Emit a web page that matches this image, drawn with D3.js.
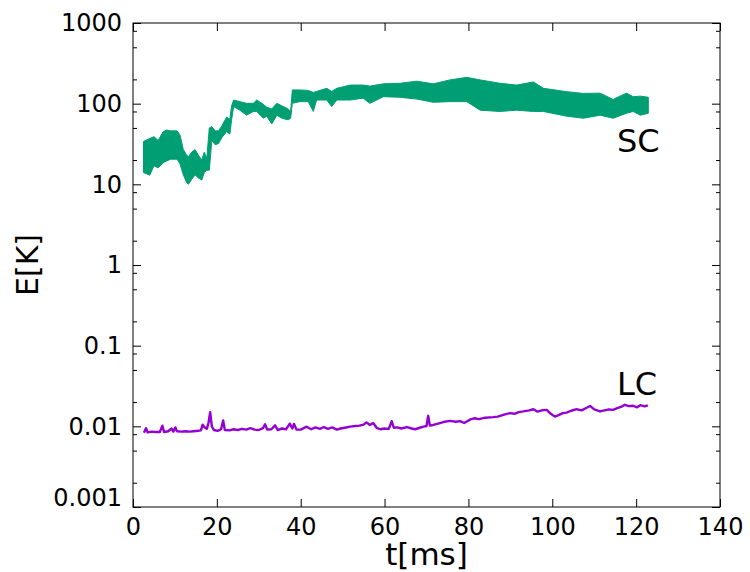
<!DOCTYPE html>
<html>
<head>
<meta charset="utf-8">
<script src="https://cdn.jsdelivr.net/npm/d3@7"></script>
<style>
    body { margin: 0; background: #fff; }
    svg text { font-family: "DejaVu Sans", sans-serif; fill: #000; }
</style>
</head>
<body>
<svg id="chart" width="750" height="572"></svg>
<script>
        // Serie SC: tiempo (ms) y envolvente inferior / superior de la banda (K)
        const scT  = [2.5, 4, 5, 6, 7.2, 8, 9, 10.5, 11.2, 12, 12.8, 13.2, 14, 14.8, 15.6, 16.4, 17, 17.6, 18.2,
                      18.8, 19.6, 20.4, 21.2, 22.3, 23.1, 23.5, 24, 25.5, 27.1, 28.7, 29.5, 31.1, 31.9, 33.1, 34.3,
                      35.5, 37, 37.6, 38, 39.8, 41.8, 43, 43.8, 46.2, 47.4, 48.6, 51.8, 54.9, 56.5, 59.7, 63.7,
                      67.7, 71.6, 75.6, 79.6, 82.8, 87.5, 91.5, 95.5, 97.9, 103.4, 107.4, 111.4, 114.5, 117.7,
                      119.3, 121, 122.9];
        const scLo = [14, 13, 17, 16, 18.5, 19.5, 20.5, 20.5, 18, 13.1, 10.5, 10, 11.5, 13.1, 12, 11.3, 14, 15, 15,
                      35, 31, 32, 38, 45, 42, 62, 92, 83, 72, 80, 80, 66, 70, 56, 72,
                      66, 63, 66, 101, 106, 106, 80, 111, 111, 92, 111, 111, 117, 101, 122, 120,
                      114, 104, 106, 106, 83, 80, 83, 80, 80, 70, 66, 72, 66, 76,
                      80, 72, 76];
        const scHi = [34, 37, 39, 35, 45, 47, 46, 46, 41, 27, 23, 22, 25, 27, 23, 20, 25, 21, 50,
                      52, 46, 46, 53, 68, 64, 93, 111, 106, 101, 101, 111, 98, 90, 86, 101,
                      94, 86, 80, 148, 148, 146, 138, 142, 155, 142, 155, 170, 170, 165, 176, 179,
                      190, 176, 197, 212, 197, 179, 170, 186, 155, 141, 134, 135, 113, 135,
                      122, 124, 120];

        // Serie LC: tiempo (ms) y valor (K)
        const lcT = [2.6, 3.1, 3.5, 4.5, 5.5, 6.4, 7, 7.4, 8.4, 9.2, 9.6, 10.1, 10.5, 11.5, 12.5, 13.5, 14.5, 15.5,
                     16.2, 16.6, 17, 17.6, 18, 18.4, 18.8, 19.3, 20.2, 21, 21.5, 21.9, 23, 24, 25, 26, 27, 28, 29,
                     30, 31, 31.5, 32, 33, 33.9, 34.5, 35.5, 36.5, 37.4, 38, 38.4, 39, 40, 41.4, 42.5, 43.5, 44.6,
                     45.5, 46.5, 47.5, 48.6, 49.5, 50.5, 51.8, 53, 54, 55, 55.7, 56.5, 57.3, 58.1, 59, 60, 61,
                     61.7, 62.2, 63, 64, 65.3, 66.5, 67.3, 68.4, 69.3, 70, 70.4, 70.8, 71.6, 73, 74, 75.6, 77,
                     78, 79, 79.6, 80.5, 81.5, 82.5, 84, 85.9, 87, 88.5, 89.9, 91, 92, 93.1, 94.5, 95.5, 96.5,
                     97.5, 98.7, 99.5, 100.6, 101.5, 102.5, 103.4, 104.5, 105.8, 107, 108.2, 109, 110, 111.4,
                     112.5, 113.5, 114.5, 115.5, 116.5, 117.3, 118.2, 119.3, 120.2, 121, 122, 122.8];
        const lcE = [0.0083, 0.0095, 0.0084, 0.0086, 0.0085, 0.0085, 0.0102, 0.0085, 0.0087, 0.0094, 0.0086, 0.0097,
                     0.0087, 0.0086, 0.0087, 0.0086, 0.0087, 0.0088, 0.0089, 0.0105, 0.0098, 0.0093, 0.011, 0.015,
                     0.01, 0.009, 0.0088, 0.0092, 0.0118, 0.009, 0.0089, 0.0092, 0.009, 0.0093, 0.0091, 0.0095,
                     0.0091, 0.009, 0.0095, 0.0106, 0.0091, 0.0092, 0.0103, 0.009, 0.0094, 0.0092, 0.0108, 0.0094,
                     0.0107, 0.0091, 0.0091, 0.0099, 0.0092, 0.0097, 0.0093, 0.0098, 0.0093, 0.0097, 0.0091,
                     0.0094, 0.0096, 0.0099, 0.0101, 0.0102, 0.0105, 0.0112, 0.0104, 0.011, 0.0096, 0.0092,
                     0.0094, 0.0093, 0.0116, 0.0096, 0.0097, 0.0094, 0.0098, 0.0094, 0.0092, 0.0096, 0.0099,
                     0.0101, 0.0135, 0.0102, 0.0104, 0.0109, 0.0113, 0.0117, 0.0114, 0.0116, 0.011, 0.0115,
                     0.0122, 0.0126, 0.0123, 0.0128, 0.013, 0.0132, 0.014, 0.0146, 0.0143, 0.015, 0.0153, 0.0158,
                     0.0163, 0.0152, 0.0158, 0.016, 0.0145, 0.0132, 0.0138, 0.0146, 0.0148, 0.0156, 0.0163,
                     0.0158, 0.017, 0.0179, 0.0162, 0.0153, 0.0158, 0.0162, 0.016, 0.0168, 0.0175, 0.0185,
                     0.0178, 0.018, 0.0172, 0.0183, 0.0177, 0.0182];

        // Marcas de los ejes
        const xTicks = [0, 20, 40, 60, 80, 100, 120, 140];
        const yTicks = [0.001, 0.01, 0.1, 1, 10, 100, 1000];
        const yTickLabels = ['0.001', '0.01', '0.1', '1', '10', '100', '1000'];
        const yMinorTicks = [0.002, 0.005, 0.008, 0.02, 0.05, 0.08, 0.2, 0.5, 0.8, 2, 5, 8, 20, 50, 80, 200, 500, 800];

        // Dimensiones del área de trazado
        const mLeft = 133, mRight = 720, mTop = 23, mBottom = 507;
        const svg = d3.select('#chart');

        const x = d3.scaleLinear().domain([0, 140]).range([mLeft, mRight]);
        const y = d3.scaleLog().domain([0.001, 1000]).range([mBottom, mTop]);

        // Banda SC
        const scData = scT.map((t, i) => ({ t, lo: scLo[i], hi: scHi[i] }));
        const area = d3.area()
            .x(d => x(d.t))
            .y0(d => y(d.lo))
            .y1(d => y(d.hi));
        svg.append('path')
            .datum(scData)
            .attr('fill', '#009e73')
            .attr('stroke', '#009e73')
            .attr('stroke-width', 1)
            .attr('d', area);

        // Línea LC
        const lcData = lcT.map((t, i) => ({ t, v: lcE[i] }));
        const line = d3.line()
            .x(d => x(d.t))
            .y(d => y(d.v));
        svg.append('path')
            .datum(lcData)
            .attr('fill', 'none')
            .attr('stroke', '#9400d3')
            .attr('stroke-width', 2.4)
            .attr('stroke-linejoin', 'round')
            .attr('d', line);

        // Ejes con marcas hacia dentro
        function styleAxis(g) {
            g.select('.domain').remove();
            g.selectAll('line').attr('stroke', '#000');
        }

        svg.append('g')
            .attr('transform', `translate(0,${mBottom})`)
            .call(d3.axisBottom(x).tickValues(xTicks).tickSizeInner(-8).tickSizeOuter(0).tickPadding(11))
            .call(styleAxis)
            .selectAll('text').attr('font-size', 24).attr('font-family', 'DejaVu Sans');

        svg.append('g')
            .attr('transform', `translate(0,${mTop})`)
            .call(d3.axisTop(x).tickValues(xTicks).tickSizeInner(-8).tickSizeOuter(0).tickFormat(''))
            .call(styleAxis);

        const yAxisG = svg.append('g')
            .attr('transform', `translate(${mLeft},0)`)
            .call(d3.axisLeft(y).tickValues(yTicks).tickSizeInner(-8).tickSizeOuter(0).tickPadding(11)
                .tickFormat((d, i) => yTickLabels[i]))
            .call(styleAxis);
        yAxisG.selectAll('text').attr('font-size', 24).attr('font-family', 'DejaVu Sans');
        // La etiqueta inferior queda apoyada sobre el eje
        yAxisG.selectAll('text').filter(d => d === 0.001).attr('dy', '-0.05em');

        svg.append('g')
            .attr('transform', `translate(${mLeft},0)`)
            .call(d3.axisLeft(y).tickValues(yMinorTicks).tickSizeInner(-4).tickSizeOuter(0).tickFormat(''))
            .call(styleAxis);

        svg.append('g')
            .attr('transform', `translate(${mRight},0)`)
            .call(d3.axisRight(y).tickValues(yTicks).tickSizeInner(-8).tickSizeOuter(0).tickFormat(''))
            .call(styleAxis);

        svg.append('g')
            .attr('transform', `translate(${mRight},0)`)
            .call(d3.axisRight(y).tickValues(yMinorTicks).tickSizeInner(-4).tickSizeOuter(0).tickFormat(''))
            .call(styleAxis);

        // Marco
        svg.append('rect')
            .attr('x', mLeft).attr('y', mTop)
            .attr('width', mRight - mLeft).attr('height', mBottom - mTop)
            .attr('fill', 'none')
            .attr('stroke', '#000')
            .attr('stroke-width', 1);

        // Títulos de ejes
        svg.append('text')
            .attr('x', (mLeft + mRight) / 2)
            .attr('y', 565)
            .attr('text-anchor', 'middle')
            .attr('font-size', 31)
            .text('t[ms]');

        svg.append('text')
            .attr('transform', `translate(38,${(mTop + mBottom) / 2}) rotate(-90)`)
            .attr('text-anchor', 'middle')
            .attr('font-size', 30)
            .text('E[K]');

        // Etiquetas de series
        svg.append('text').attr('x', 617).attr('y', 152).attr('font-size', 32).text('SC');
        svg.append('text').attr('x', 617).attr('y', 395).attr('font-size', 32).text('LC');
</script>
</body>
</html>
